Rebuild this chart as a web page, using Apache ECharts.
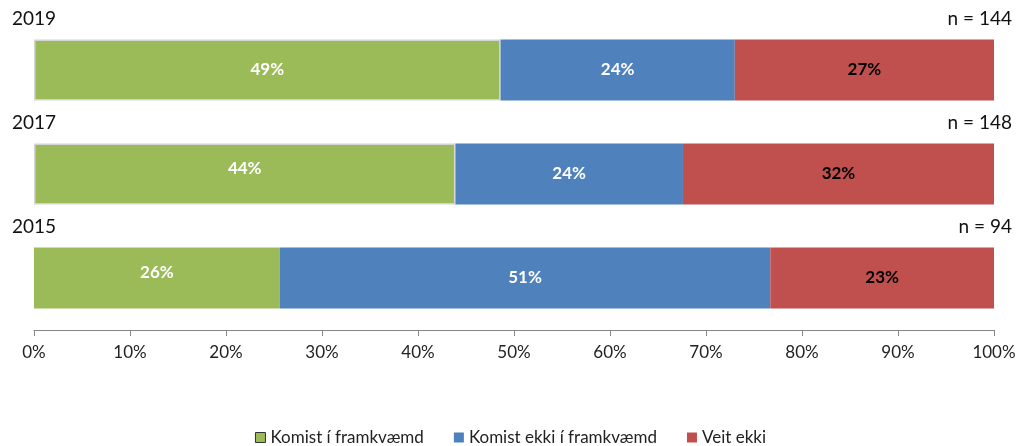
<!DOCTYPE html>
<html>
<head>
<meta charset="utf-8">
<script src="https://cdn.jsdelivr.net/npm/echarts@6/dist/echarts.min.js"></script>
<style>
  html, body { margin: 0; padding: 0; background: #fff; }
  #chart { width: 1021px; height: 446px; }
</style>
</head>
<body>
<div id="chart"></div>
<script>
// bottom to top, the way a category y axis counts
const years = ['2015', '2017', '2019'];
const counts = ['n = 94', 'n = 148', 'n = 144'];
const done = [25.6, 43.9, 48.6];
const notDone = [51.1, 23.7, 24.4];
const dontKnow = [23.3, 32.4, 27.0];

const font = 'Lato, "Open Sans", sans-serif';
const chart = echarts.init(document.getElementById('chart'));

const pct = (p) => Math.round(p.value) + '%';

const option = {
  animation: false,
  textStyle: { fontFamily: font },
  color: ['#9BBB59', '#4F81BD', '#C0504D'],
  grid: { left: 34, right: 27, top: 18, bottom: 116 },
  legend: {
    top: 429,
    left: 'center',
    padding: 0,
    itemWidth: 10,
    itemHeight: 10,
    itemGap: 30,
    icon: 'rect',
    textStyle: { fontSize: 17, color: '#222', fontFamily: font },
    data: [
      { name: 'Komist í framkvæmd', itemStyle: { borderColor: '#333', borderWidth: 1 } },
      'Komist ekki í framkvæmd',
      'Veit ekki'
    ]
  },
  xAxis: {
    type: 'value',
    min: 0,
    max: 100,
    interval: 10,
    axisLine: { show: true, lineStyle: { color: '#868686' } },
    axisTick: { show: true, length: 6, lineStyle: { color: '#868686' } },
    splitLine: { show: false },
    axisLabel: { formatter: '{value}%', fontSize: 17, color: '#222', margin: 14 }
  },
  yAxis: {
    type: 'category',
    data: years,
    axisLine: { show: false },
    axisTick: { show: false },
    axisLabel: { show: false }
  },
  series: [
    {
      name: 'Komist í framkvæmd',
      type: 'bar',
      stack: 'all',
      barWidth: 61,
      data: done.map((v, i) => ({
        value: v,
        itemStyle: i > 0 ? { borderColor: '#d4d4d4', borderWidth: 1.5 } : {},
        label: { offset: i < 2 ? [0, -5] : [0, 0] }
      })),
      label: { show: true, formatter: pct, color: '#fff', fontWeight: 'bold', fontSize: 17 }
    },
    {
      name: 'Komist ekki í framkvæmd',
      type: 'bar',
      stack: 'all',
      barWidth: 61,
      data: notDone,
      label: { show: true, formatter: pct, color: '#fff', fontWeight: 'bold', fontSize: 17 }
    },
    {
      name: 'Veit ekki',
      type: 'bar',
      stack: 'all',
      barWidth: 61,
      data: dontKnow,
      label: { show: true, formatter: pct, color: '#000', fontWeight: 'bold', fontSize: 17 }
    }
  ]
};

chart.setOption(option);

// year and sample size above each bar
const graphics = [];
years.forEach((y, i) => {
  const cy = chart.convertToPixel({ yAxisIndex: 0 }, y) - 50;
  graphics.push({
    type: 'text', left: 12, top: cy - 11,
    style: { text: y, fontSize: 19, fill: '#111', fontFamily: font }
  });
  graphics.push({
    type: 'text', right: 9, top: cy - 11,
    style: { text: counts[i], fontSize: 19, fill: '#111', fontFamily: font }
  });
});
chart.setOption({ graphic: graphics });
</script>
</body>
</html>
